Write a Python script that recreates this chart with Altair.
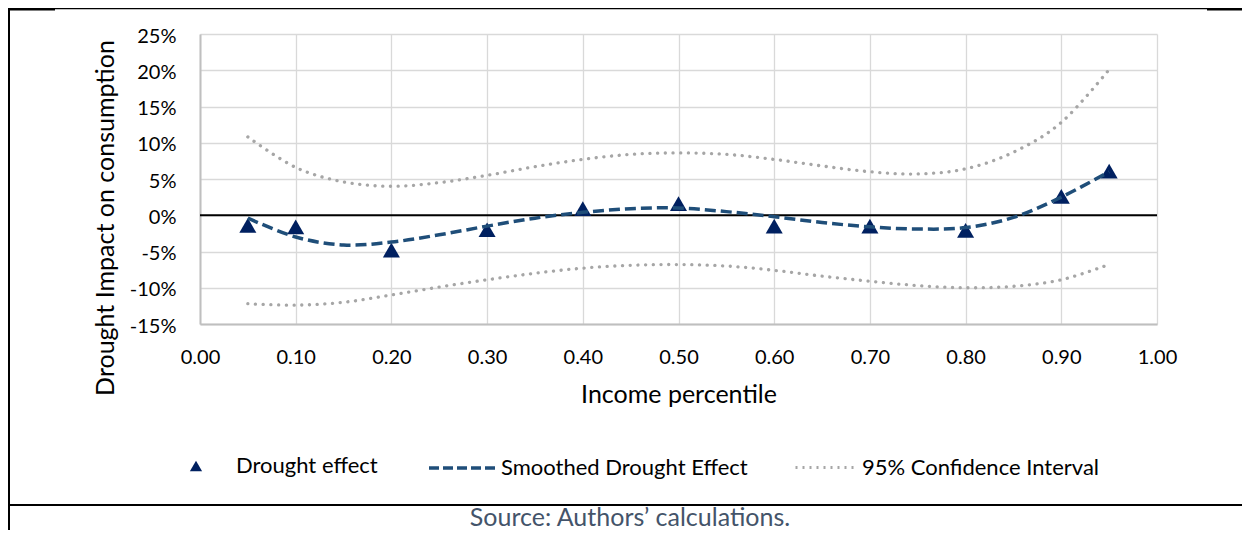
import altair as alt
import pandas as pd

# ---- data ----
pct = [0.05, 0.10, 0.20, 0.30, 0.40, 0.50, 0.60, 0.70, 0.80, 0.90, 0.95]
effect = [-0.014, -0.016, -0.048, -0.020, 0.009, 0.016, -0.015, -0.015, -0.021, 0.026, 0.061]

curve_x = [0.05, 0.10, 0.15, 0.20, 0.25, 0.30, 0.35, 0.40, 0.45, 0.50,
           0.55, 0.60, 0.65, 0.70, 0.75, 0.80, 0.85, 0.90, 0.95]
smoothed = [-0.004, -0.030, -0.041, -0.037, -0.027, -0.015, -0.004, 0.004, 0.009, 0.010,
            0.005, -0.002, -0.010, -0.016, -0.019, -0.017, -0.003, 0.025, 0.060]
ci_upper = [0.108, 0.066, 0.046, 0.040, 0.045, 0.055, 0.067, 0.077, 0.084, 0.086,
            0.084, 0.077, 0.068, 0.060, 0.057, 0.064, 0.087, 0.128, 0.201]
ci_lower = [-0.122, -0.124, -0.120, -0.110, -0.099, -0.089, -0.080, -0.073, -0.069, -0.068,
            -0.070, -0.076, -0.084, -0.091, -0.097, -0.100, -0.098, -0.089, -0.068]

x_ticks = [0.0, 0.1, 0.2, 0.3, 0.4, 0.5, 0.6, 0.7, 0.8, 0.9, 1.0]
y_ticks = [-0.15, -0.10, -0.05, 0.0, 0.05, 0.10, 0.15, 0.20, 0.25]

S_EFFECT = "Drought effect"
S_SMOOTH = "Smoothed Drought Effect"
S_CI = "95% Confidence Interval"
SOURCE = "Source: Authors\u2019 calculations."

FONT = "Lato"

pts_df = pd.DataFrame({"x": pct, "y": effect, "series": S_EFFECT})
smooth_df = pd.DataFrame({"x": curve_x, "y": smoothed, "series": S_SMOOTH})
ci_df = pd.concat([
    pd.DataFrame({"x": curve_x, "y": ci_upper, "bound": "upper", "series": S_CI}),
    pd.DataFrame({"x": curve_x, "y": ci_lower, "bound": "lower", "series": S_CI}),
])

xs = alt.Scale(domain=[0, 1], nice=False, zero=False)
ys = alt.Scale(domain=[-0.15, 0.25], nice=False, zero=False)

x_axis = alt.Axis(
    values=x_ticks, format=".2f", grid=True, gridColor="#d9d9d9", gridWidth=1.3,
    domainColor="#bfbfbf", domainWidth=2, ticks=False, tickSize=0, labelFlush=False,
    labelFont=FONT, labelFontSize=20, labelColor="black", labelPadding=39,
    labelBaseline="alphabetic",
    title="Income percentile", titleFont=FONT, titleFontSize=25, titleFontWeight="normal",
    titleColor="black", titleX=478.5, titleY=78, titleBaseline="alphabetic", titleAlign="center",
)
y_axis = alt.Axis(
    values=y_ticks, labelExpr="round(datum.value*100) + '%'", grid=True, gridColor="#d9d9d9",
    gridWidth=1.3, domainColor="#bfbfbf", domainWidth=2, ticks=False, tickSize=0,
    labelFlush=False, labelFont=FONT, labelFontSize=20, labelColor="black", labelPadding=24,
    labelBaseline="alphabetic", labelOffset=8,
    title="Drought Impact on consumption", titleFont=FONT, titleFontSize=25,
    titleFontWeight="normal", titleColor="black", titleX=-87, titleY=183.5, titleAngle=270,
    titleBaseline="alphabetic", titleAlign="center",
)

X = alt.X("x:Q", scale=xs, axis=x_axis)
Y = alt.Y("y:Q", scale=ys, axis=y_axis)

leg_common = dict(orient="none", title=None, labelFont=FONT, labelFontSize=22,
                  labelColor="black", labelLimit=400, padding=0)

zero = alt.Chart(pd.DataFrame({"y": [0.0]})).mark_rule(color="black", strokeWidth=2).encode(
    y=alt.Y("y:Q", scale=ys, axis=y_axis)
)

ci = alt.Chart(ci_df).mark_line(
    interpolate="cardinal", strokeWidth=3.3, strokeDash=[0.1, 7.6], strokeCap="round"
).encode(
    x=X, y=Y, detail="bound:N",
    color=alt.Color("series:N", scale=alt.Scale(domain=[S_CI], range=["#a6a6a6"]),
                    legend=alt.Legend(legendX=594, legendY=403, symbolType="stroke",
                                      symbolSize=3364, symbolStrokeWidth=3,
                                      symbolDash=[2, 5], labelOffset=7, **leg_common)),
)

pts = alt.Chart(pts_df).mark_point(shape="triangle-up", filled=True, size=290, opacity=1).encode(
    x=X, y=Y,
    color=alt.Color("series:N", scale=alt.Scale(domain=[S_EFFECT], range=["#002060"]),
                    legend=alt.Legend(legendX=-15, legendY=421, symbolType="triangle-up",
                                      symbolSize=150, labelOffset=29, **leg_common)),
)

smooth = alt.Chart(smooth_df).mark_line(
    interpolate="cardinal", strokeWidth=3.5, strokeDash=[11, 5]
).encode(
    x=X, y=Y,
    color=alt.Color("series:N", scale=alt.Scale(domain=[S_SMOOTH], range=["#1f4e79"]),
                    legend=alt.Legend(legendX=227, legendY=397, symbolType="stroke",
                                      symbolSize=4900, symbolStrokeWidth=3.5,
                                      symbolDash=[10, 4], labelOffset=0, **leg_common)),
)

dummy = pd.DataFrame({"k": [0]})
border_left = alt.Chart(dummy).mark_rule(color="black", strokeWidth=2).encode(
    x=alt.value(-191), y=alt.value(-26), y2=alt.value(496))
border_top = alt.Chart(dummy).mark_rule(color="black", strokeWidth=1.2).encode(
    x=alt.value(-192), x2=alt.value(1042), y=alt.value(-25.4))
border_top_l = alt.Chart(dummy).mark_rule(color="black", strokeWidth=2.4).encode(
    x=alt.value(-192), x2=alt.value(-145), y=alt.value(-24.8))
border_top_r = alt.Chart(dummy).mark_rule(color="black", strokeWidth=2.4).encode(
    x=alt.value(1007), x2=alt.value(1042), y=alt.value(-24.8))
border_bottom = alt.Chart(dummy).mark_rule(color="black", strokeWidth=2).encode(
    x=alt.value(-192), x2=alt.value(1042), y=alt.value(471))
source = alt.Chart(dummy).mark_text(
    align="center", baseline="alphabetic", font=FONT, fontSize=25, color="#44546a"
).encode(x=alt.value(430), y=alt.value(492), text=alt.value(SOURCE))

chart = alt.layer(
    zero, ci, pts, smooth, border_left, border_top, border_top_l, border_top_r,
    border_bottom, source
).resolve_scale(color="independent").properties(
    width=957, height=290,
    padding={"left": 192, "top": 26, "right": 85, "bottom": 206},
    autosize=alt.AutoSizeParams(type="none"),
).configure_view(stroke=None)

chart.save("out.html", embed_options={"renderer": "svg", "actions": False})
